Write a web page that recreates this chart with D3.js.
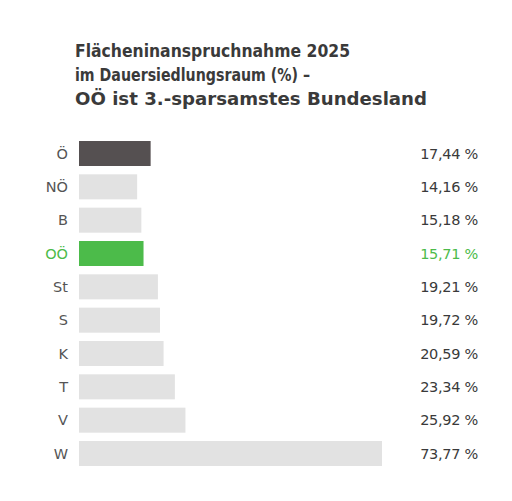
<!DOCTYPE html>
<html><head><meta charset="utf-8">
<script src="https://cdn.jsdelivr.net/npm/d3@7"></script>
<style>body{margin:0;background:#fff}</style></head>
<body><svg id="c" width="512" height="501"></svg>
<script>
const categories = ["Ö","NÖ","B","OÖ","St","S","K","T","V","W"];
const values = [17.44,14.16,15.18,15.71,19.21,19.72,20.59,23.34,25.92,73.77];
const labels = ["17,44 %","14,16 %","15,18 %","15,71 %","19,21 %","19,72 %","20,59 %","23,34 %","25,92 %","73,77 %"];
const titleLines = ["Flächeninanspruchnahme 2025","im Dauersiedlungsraum (%) –","OÖ ist 3.-sparsamstes Bundesland"];

const svg = d3.select("#c");
const font = "'DejaVu Sans', sans-serif";
svg.selectAll("text.t").data(titleLines).join("text").attr("class","t")
  .attr("x",75).attr("y",(d,i)=>57+i*24).text(d=>d)
  .attr("font-family",font).attr("font-size",17.5).attr("font-weight",600).attr("fill","#3a3a3a")
  .attr("textLength",(d,i)=>[275,235,352][i]).attr("lengthAdjust","spacingAndGlyphs");

const x = d3.scaleLinear().domain([0,73.77]).range([79,382]);
const y = d3.scaleBand().domain(categories).range([137,470]).paddingInner(0.25).paddingOuter(0.12);
const col = d=> d==="Ö" ? "#555051" : d==="OÖ" ? "#4cbb4a" : "#e2e2e2";
const tcol = d=> d==="OÖ" ? "#4cbb4a" : "#3a3a3a";

svg.selectAll("rect").data(categories).join("rect")
  .attr("x",x(0)).attr("y",d=>y(d)).attr("height",y.bandwidth())
  .attr("width",(d,i)=>x(values[i])-x(0)).attr("fill",col);
svg.selectAll("text.c").data(categories).join("text").attr("class","c")
  .attr("x",68).attr("y",d=>y(d)+y.bandwidth()/2).attr("dy","0.36em").attr("text-anchor","end")
  .text(d=>d).attr("font-family",font).attr("font-size",14.5).attr("fill",d=>d==="OÖ"?"#4cbb4a":"#555");
svg.selectAll("text.v").data(categories).join("text").attr("class","v")
  .attr("x",478).attr("y",d=>y(d)+y.bandwidth()/2).attr("dy","0.36em").attr("text-anchor","end")
  .text((d,i)=>labels[i]).attr("font-family",font).attr("font-size",14.5).attr("letter-spacing",-0.3).attr("fill",tcol);
</script></body></html>
